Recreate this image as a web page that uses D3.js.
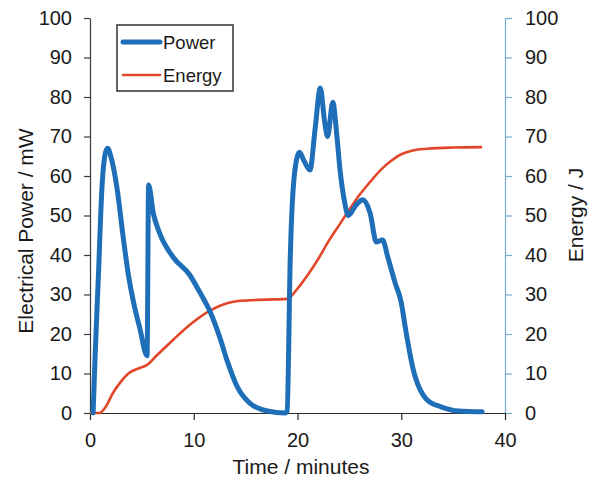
<!DOCTYPE html>
<html>
<head>
<meta charset="utf-8">
<script src="https://cdn.jsdelivr.net/npm/d3@7"></script>
<style>
  body { margin: 0; background: #fff; }
  svg { font-family: "Liberation Sans", Arial, sans-serif; }
</style>
</head>
<body>
<div id="chart"></div>
<script>
// readings (time in minutes)
const powerTime = [0.3, 0.5, 0.8, 1.15, 1.5, 1.7, 2.0, 2.6, 3.2, 3.7, 4.2, 4.8, 5.5,
  5.65, 6.1, 6.7, 8.0, 9.6, 10.6, 11.6, 12.5, 13.2, 14.2, 15.4, 17.1, 18.8,
  19.0, 19.3, 19.75, 20.2, 20.6, 21.2, 21.7, 22.2, 22.6, 22.9, 23.4, 23.8, 24.1, 24.5, 24.9,
  25.6, 26.3, 27.0, 27.6, 28.2, 28.7, 29.4, 30.0, 30.4, 31.1, 32.5, 33.9, 35.5, 37.8];
const powerMW = [0, 15, 34, 57, 66, 67, 65, 57, 44.5, 35, 28, 21.5, 14.5,
  57.7, 50.6, 45.6, 39.5, 35, 30.5, 25.5, 19.2, 13.4, 6.6, 2.5, 0.5, 0,
  0.5, 39, 61.5, 66, 64, 61.5, 72, 82.3, 74, 70, 78.7, 70, 61.5, 54, 50,
  52.5, 54, 50.6, 43.3, 43.8, 39.5, 33, 28, 21.5, 11.6, 3.3, 1.5, 0.5, 0.3];

const energyTime = [0, 0.9, 1.5, 2.2, 3.0, 3.7, 4.8, 5.5, 6.4, 8.0, 9.6, 11.6, 13.2, 14.5, 17.0,
  19.0, 20.0, 21.0, 22.0, 23.0, 24.0, 25.0, 26.0, 27.0, 28.0, 29.0, 30.0, 31.0, 32.5, 35.0, 37.8];
const energyJ = [0, 0, 1.5, 5, 8, 10, 11.4, 12.2, 14.5, 18.5, 22.3, 26, 27.8, 28.4, 28.7,
  28.9, 31.5, 35, 39, 43.5, 47.5, 51.5, 55.3, 58.5, 61.5, 63.8, 65.5, 66.4, 66.9, 67.2, 67.3];

const xTicks = [0, 10, 20, 30, 40];
const yTicks = [0, 10, 20, 30, 40, 50, 60, 70, 80, 90, 100];

const width = 595, height = 481;
const plot = { left: 90, right: 505, top: 18, bottom: 413 };

const svg = d3.select('#chart').append('svg')
  .attr('width', width)
  .attr('height', height);

const x = d3.scaleLinear().domain([0, 40]).range([plot.left, plot.right]);
const yPower = d3.scaleLinear().domain([0, 100]).range([plot.bottom, plot.top]);
const yEnergy = d3.scaleLinear().domain([0, 100]).range([plot.bottom, plot.top]);

const fontSize = '20px';
const titleSize = '21px';

// axes
const gLeft = svg.append('g')
  .attr('transform', `translate(${plot.left},0)`)
  .call(d3.axisLeft(yPower).tickValues(yTicks).tickSize(6).tickSizeOuter(0).tickPadding(12));
gLeft.selectAll('path, line').attr('stroke', '#3a3a3a').attr('stroke-width', 1.2);

const gRight = svg.append('g')
  .attr('transform', `translate(${plot.right},0)`)
  .call(d3.axisRight(yEnergy).tickValues(yTicks).tickSize(7).tickSizeOuter(0).tickPadding(13));
gRight.selectAll('path, line').attr('stroke', '#74acd2').attr('stroke-width', 1.2);

const gBottom = svg.append('g')
  .attr('transform', `translate(0,${plot.bottom})`)
  .call(d3.axisBottom(x).tickValues(xTicks).tickSize(7).tickSizeOuter(0).tickPadding(13));
gBottom.selectAll('path, line').attr('stroke', '#2a2a2a').attr('stroke-width', 1.2);

svg.selectAll('.tick text')
  .attr('font-size', fontSize)
  .attr('font-family', '"Liberation Sans", Arial, sans-serif')
  .attr('fill', '#1a1a1a');

// axis titles
svg.append('text')
  .attr('x', 301).attr('y', 474)
  .attr('text-anchor', 'middle')
  .attr('font-size', titleSize)
  .attr('fill', '#1a1a1a')
  .text('Time / minutes');

svg.append('text')
  .attr('transform', 'translate(33,231) rotate(-90)')
  .attr('text-anchor', 'middle')
  .attr('font-size', titleSize)
  .attr('fill', '#1a1a1a')
  .text('Electrical Power / mW');

svg.append('text')
  .attr('transform', 'translate(583,215) rotate(-90)')
  .attr('text-anchor', 'middle')
  .attr('font-size', titleSize)
  .attr('fill', '#1a1a1a')
  .text('Energy / J');

// series
const energyLine = d3.line()
  .x((d, i) => x(energyTime[i]))
  .y(d => yEnergy(d))
  .curve(d3.curveMonotoneX);

const powerLine = d3.line()
  .x((d, i) => x(powerTime[i]))
  .y(d => yPower(d))
  .curve(d3.curveMonotoneX);

svg.append('path')
  .datum(energyJ)
  .attr('d', energyLine)
  .attr('fill', 'none')
  .attr('stroke', '#e2472b')
  .attr('stroke-width', 2.6)
  .attr('stroke-linejoin', 'round');

svg.append('path')
  .datum(powerMW)
  .attr('d', powerLine)
  .attr('fill', 'none')
  .attr('stroke', '#1e6fb8')
  .attr('stroke-width', 5)
  .attr('stroke-linejoin', 'round')
  .attr('stroke-linecap', 'round');

// legend
const legend = svg.append('g').attr('transform', 'translate(117,25)');
legend.append('rect')
  .attr('width', 116).attr('height', 66)
  .attr('fill', '#fff')
  .attr('stroke', '#333')
  .attr('stroke-width', 1.5);

const legendItems = [
  { name: 'Power', color: '#1e6fb8', w: 5 },
  { name: 'Energy', color: '#e2472b', w: 2.6 }
];
legendItems.forEach((d, i) => {
  const cy = 17 + i * 33;
  legend.append('line')
    .attr('x1', 6).attr('x2', 43)
    .attr('y1', cy).attr('y2', cy)
    .attr('stroke', d.color)
    .attr('stroke-width', d.w)
    .attr('stroke-linecap', 'round');
  legend.append('text')
    .attr('x', 46).attr('y', cy + 6.5)
    .attr('font-size', '18.5px')
    .attr('fill', '#1a1a1a')
    .text(d.name);
});
</script>
</body>
</html>
